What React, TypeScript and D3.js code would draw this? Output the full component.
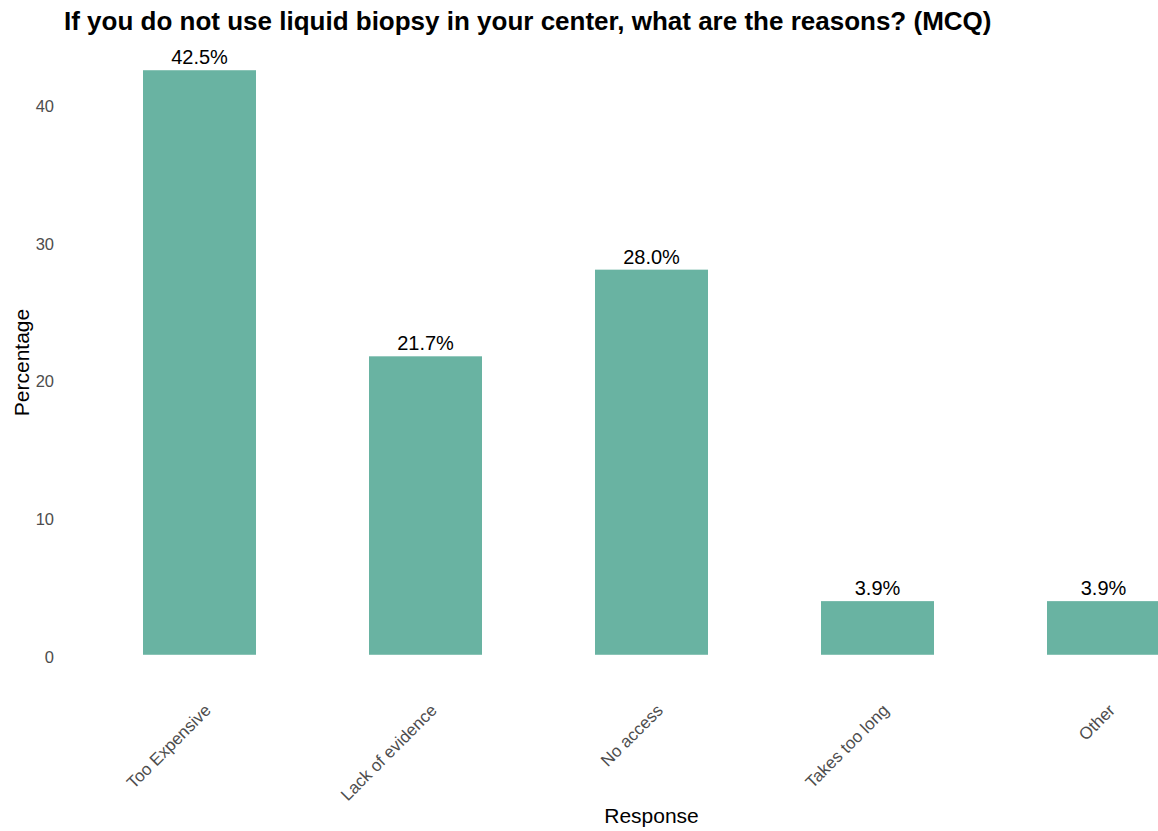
import React from "react";
import * as d3 from "d3";

const categories = ["Too Expensive", "Lack of evidence", "No access", "Takes too long", "Other"];
const values = [42.5, 21.7, 28.0, 3.9, 3.9];
const yTicks = [0, 10, 20, 30, 40];
const title = "If you do not use liquid biopsy in your center, what are the reasons? (MCQ)";

const W = 1158;
const H = 831;
const panelLeft = 63.9;
const panelRight = 1239.1;
const panelTop = 41;
const panelBottom = 684;

export default function App() {
  const x = d3.scaleBand<string>().domain(categories).range([panelLeft, panelRight]).paddingInner(0.5).paddingOuter(0.35);
  const yMax = d3.max(values) as number;
  const exp = yMax * 0.05;
  const y = d3.scaleLinear().domain([-exp, yMax + exp]).range([panelBottom, panelTop]);
  const font = "'Liberation Sans', Arial, sans-serif";
  return (
    <svg width={W} height={H} style={{ position: "absolute", left: 0, top: 0, background: "#fff" }} fontFamily={font}>
      <rect x={0} y={0} width={W} height={H} fill="#fff" />
      <text x={64} y={30} fontSize={26} fontWeight="bold" fill="#000">{title}</text>
      {yTicks.map((t) => (
        <text key={t} x={54} y={y(t) + 2} dy="0.35em" textAnchor="end" fontSize={16.5} fill="#4d4d4d">{t}</text>
      ))}
      {categories.map((c, i) => (
        <g key={c}>
          <rect x={x(c)} y={y(values[i])} width={x.bandwidth()} height={y(0) - y(values[i])} fill="#69b3a2" />
          <text x={(x(c) as number) + x.bandwidth() / 2} y={y(values[i]) - 6} textAnchor="middle" fontSize={20} fill="#000">
            {values[i].toFixed(1) + "%"}
          </text>
          <text
            transform={`translate(${(x(c) as number) + x.bandwidth() / 2 + 4},${703}) rotate(-45)`}
            textAnchor="end"
            dy="0.7em"
            fontSize={17}
            fill="#4d4d4d"
          >
            {c}
          </text>
        </g>
      ))}
      <text x={(panelLeft + panelRight) / 2} y={823} textAnchor="middle" fontSize={21} fill="#000">Response</text>
      <text transform={`translate(29,${(panelTop + panelBottom) / 2}) rotate(-90)`} textAnchor="middle" fontSize={21} fill="#000">Percentage</text>
    </svg>
  );
}
